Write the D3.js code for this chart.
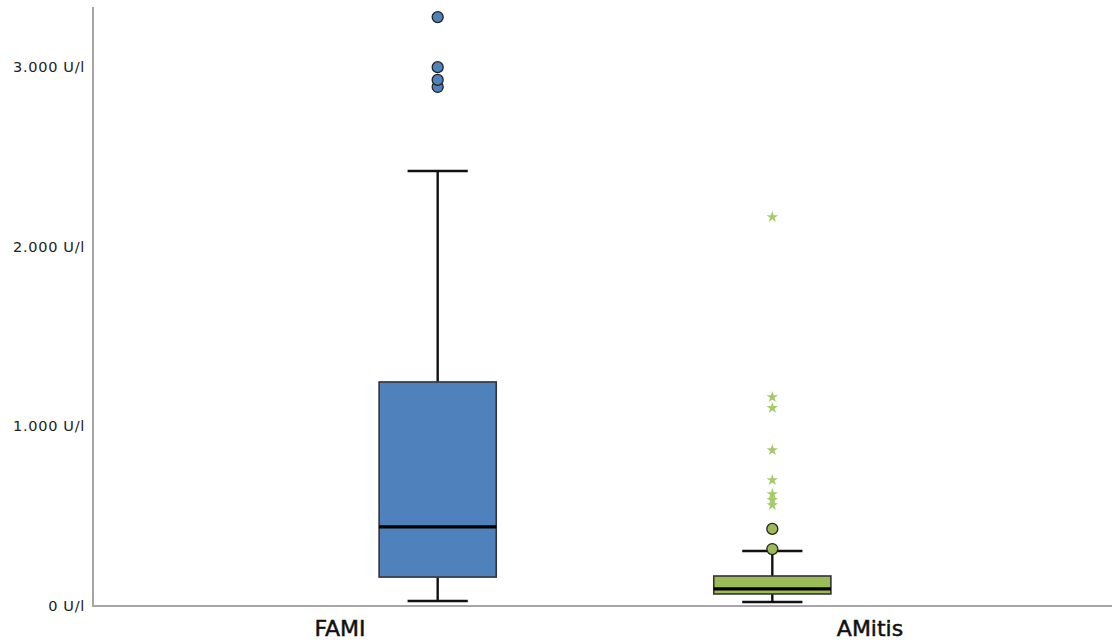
<!DOCTYPE html>
<html>
<head>
<meta charset="utf-8">
<script src="https://cdn.jsdelivr.net/npm/d3@7"></script>
<style>
  html, body { margin: 0; padding: 0; background: #fff; }
  svg { display: block; }
</style>
</head>
<body>
<svg id="chart" width="1112" height="641"></svg>
<script>
// Groups and their five-number summaries (U/l)
const groups = ["FAMI", "AMitis"];
const lowerWhisker = [28, 22];
const q1 = [161, 67];
const median = [440, 95];
const q3 = [1247, 167];
const upperWhisker = [2421, 306];
// Mild outliers (circles) and extreme outliers (stars)
const outliersFAMI = [2889, 2928, 2999, 3278];
const outliersAMitis = [317, 429];
const extremesFAMI = [];
const extremesAMitis = [562, 590, 623, 701, 868, 1102, 1163, 2165];
const yTicks = [0, 1000, 2000, 3000];
const fills = ["#4f81bd", "#9bbb59"];

const outliers = [outliersFAMI, outliersAMitis];
const extremes = [extremesFAMI, extremesAMitis];

(function draw() {
  const svg = d3.select("#chart");
  const W = 1112;
  const mLeft = 93, mBottom = 606, mTop = 7;

  const y = d3.scaleLinear().domain([0, 3334]).range([mBottom, mTop]);
  const xBox = d3.scalePoint().domain(groups).range([mLeft, W + 5]).padding(1.03);
  const xLab = d3.scalePoint().domain(groups).range([mLeft, W + 5]).padding(0.466);
  const step = xBox.step();
  const boxW = step * 0.35;
  const capW = step * 0.18;

  // Axis lines
  svg.append("line").attr("x1", mLeft).attr("x2", mLeft).attr("y1", mTop).attr("y2", mBottom + 1)
    .attr("stroke", "#a6a6a6").attr("stroke-width", 2);
  svg.append("line").attr("x1", mLeft).attr("x2", W).attr("y1", mBottom).attr("y2", mBottom)
    .attr("stroke", "#a6a6a6").attr("stroke-width", 2);

  // Y tick labels
  const fmt = v => d3.format(",")(v).replace(/,/g, ".") + " U/l";
  svg.append("g").selectAll("text").data(yTicks).join("text")
    .attr("x", mLeft - 8).attr("y", d => y(d)).attr("dy", "0.35em")
    .attr("text-anchor", "end")
    .attr("font-family", "DejaVu Sans, sans-serif").attr("font-size", 14.5)
    .attr("letter-spacing", 0.7)
    .attr("fill", "#222").text(fmt);

  // Category labels
  svg.append("g").selectAll("text").data(groups).join("text")
    .attr("x", d => xLab(d)).attr("y", 636)
    .attr("text-anchor", "middle")
    .attr("font-family", "DejaVu Sans, sans-serif").attr("font-size", 22)
    .attr("fill", "#111").attr("stroke", "#111").attr("stroke-width", 0.5)
    .text(d => d);

  const star = d3.symbol().type(d3.symbolStar).size(42);

  groups.forEach((g, i) => {
    const cx = xBox(g);
    const grp = svg.append("g");
    // whisker stems
    grp.append("line").attr("x1", cx).attr("x2", cx)
      .attr("y1", y(upperWhisker[i])).attr("y2", y(q3[i]))
      .attr("stroke", "#111").attr("stroke-width", 2.4);
    grp.append("line").attr("x1", cx).attr("x2", cx)
      .attr("y1", y(q1[i])).attr("y2", y(lowerWhisker[i]))
      .attr("stroke", "#111").attr("stroke-width", 2.4);
    // caps
    [upperWhisker[i], lowerWhisker[i]].forEach(v => {
      grp.append("line").attr("x1", cx - capW / 2).attr("x2", cx + capW / 2)
        .attr("y1", y(v)).attr("y2", y(v))
        .attr("stroke", "#111").attr("stroke-width", 2.4);
    });
    // box
    grp.append("rect").attr("x", cx - boxW / 2).attr("width", boxW)
      .attr("y", y(q3[i])).attr("height", y(q1[i]) - y(q3[i]))
      .attr("fill", fills[i]).attr("stroke", "#333").attr("stroke-width", 1.6);
    // median
    grp.append("line").attr("x1", cx - boxW / 2).attr("x2", cx + boxW / 2)
      .attr("y1", y(median[i])).attr("y2", y(median[i]))
      .attr("stroke", "#000").attr("stroke-width", 3.2);
    // outliers
    grp.selectAll("circle").data(outliers[i]).join("circle")
      .attr("cx", cx).attr("cy", d => y(d)).attr("r", 5.5)
      .attr("fill", fills[i]).attr("stroke", "#222").attr("stroke-width", 1.3);
    // extremes
    grp.selectAll("path.ext").data(extremes[i]).join("path").attr("class", "ext")
      .attr("d", star).attr("transform", d => `translate(${cx},${y(d)})`)
      .attr("fill", "#a6c96a");
  });
})();
</script>
</body>
</html>
